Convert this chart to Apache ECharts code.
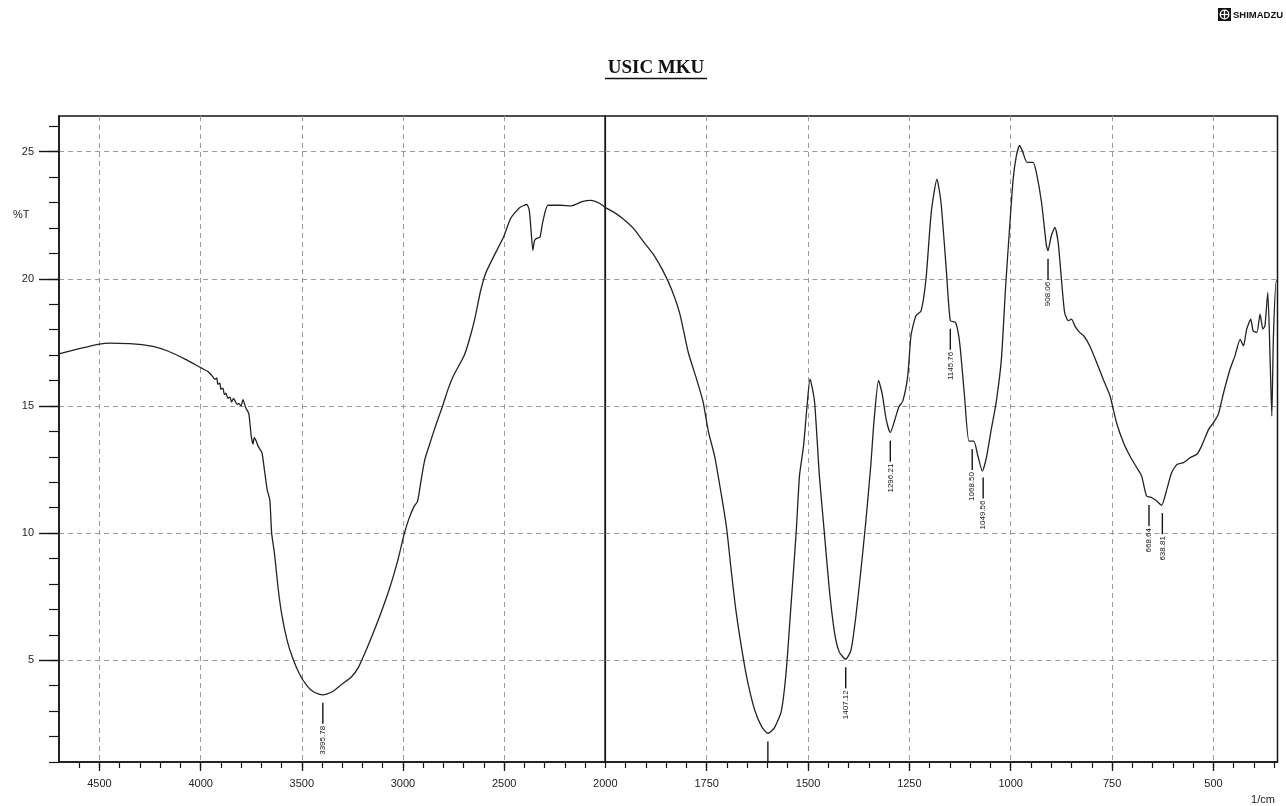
<!DOCTYPE html>
<html><head><meta charset="utf-8">
<script src="https://cdn.jsdelivr.net/npm/echarts@6/dist/echarts.min.js"></script>
<style>html,body{margin:0;padding:0;background:#fff}#c{width:1286px;height:806px}</style>
</head><body><div id="c"></div>
<script>
// ---- data (wavenumber 1/cm, %T) ----
const spectrumHigh = [
 [4700,17.05],[4600,17.25],[4500,17.43],[4450,17.47],[4350,17.45],[4290,17.41],[4236,17.34],[4166,17.17],
 [4077,16.84],[4001,16.51],[3962,16.34],[3940,16.15],[3930,16.05],[3920,16.1],[3915,15.85],[3905,15.9],
 [3900,15.66],[3890,15.7],[3883,15.45],[3875,15.5],[3865,15.3],[3855,15.35],[3847,15.15],[3838,15.3],
 [3830,15.2],[3820,15.05],[3812,15.1],[3800,15.0],[3791,15.25],[3777,14.93],[3762,14.7],[3750,13.82],
 [3741,13.5],[3735,13.75],[3727,13.65],[3715,13.4],[3697,13.16],[3685,12.5],[3671,11.7],[3658,11.3],
 [3649,10.0],[3635,9.2],[3618,7.9],[3600,6.84],[3573,5.79],[3547,5.13],[3512,4.47],[3476,4.01],
 [3441,3.75],[3396,3.64],[3352,3.75],[3299,4.08],[3255,4.34],[3219,4.74],[3175,5.53],[3122,6.58],
 [3069,7.76],[3025,8.95],[2995,9.93],[2972,10.53],[2945,11.05],[2928,11.25],[2910,12.1],[2892,12.89],
 [2866,13.55],[2839,14.21],[2804,15.0],[2777,15.66],[2751,16.18],[2698,16.97],[2671,17.63],[2645,18.42],
 [2618,19.47],[2592,20.2],[2557,20.79],[2503,21.64],[2468,22.37],[2424,22.79],[2388,22.92],[2376,22.7],
 [2368,22.0],[2358,21.12],[2350,21.5],[2341,21.58],[2323,21.64],[2309,22.24],[2283,22.89],[2221,22.89],
 [2168,22.87],[2115,23.03],[2071,23.08],[2027,22.96],[2000,22.8]
];
const spectrumLow = [
 [2000,22.8],[1980,22.63],[1955,22.34],[1930,21.97],[1906,21.46],[1881,20.95],[1857,20.29],[1836,19.56],
 [1816,18.61],[1795,17.08],[1775,16.06],[1759,15.18],[1746,14.01],[1730,13.0],[1714,11.53],[1701,10.22],
 [1689,8.47],[1677,6.86],[1660,5.11],[1648,4.09],[1632,3.07],[1615,2.41],[1599,2.12],[1583,2.34],
 [1566,2.99],[1554,4.53],[1542,7.15],[1529,10.07],[1521,12.26],[1511,13.43],[1503,14.89],[1495,16.06],
 [1484,15.18],[1472,12.26],[1460,10.07],[1448,7.88],[1435,6.13],[1423,5.33],[1407,5.04],[1394,5.4],
 [1382,6.72],[1370,8.47],[1358,10.36],[1345,12.7],[1337,14.45],[1326,16.0],[1317,15.47],[1307,14.45],
 [1297,13.95],[1286,14.45],[1276,14.96],[1266,15.2],[1254,16.18],[1246,17.76],[1234,18.54],[1221,18.74],
 [1209,19.99],[1196,22.61],[1182,23.92],[1172,23.0],[1159,20.38],[1149,18.35],[1136,18.28],[1126,17.49],
 [1114,15.39],[1103,13.62],[1091,13.62],[1081,13.03],[1070,12.44],[1060,12.97],[1048,14.08],[1036,15.13],
 [1023,16.84],[1013,19.59],[1003,21.96],[994,23.92],[986,24.84],[978,25.24],[970,24.97],[960,24.58],
 [945,24.58],[937,24.19],[924,23.0],[912,21.3],[908,21.1],[900,21.69],[891,22.02],[883,21.43],
 [875,19.99],[867,18.67],[858,18.35],[850,18.41],[842,18.15],[830,17.89],[820,17.76],[805,17.36],
 [788,16.71],[772,16.05],[755,15.39],[739,14.34],[722,13.56],[706,13.03],[689,12.57],[677,12.24],
 [665,11.46],[652,11.39],[640,11.26],[628,11.09],[615,11.72],[603,12.38],[590,12.7],[574,12.77],
 [557,12.97],[541,13.1],[529,13.43],[512,14.08],[500,14.34],[488,14.67],[475,15.52],[459,16.44],
 [447,16.97],[434,17.62],[426,17.36],[418,18.02],[408,18.41],[402,17.95],[393,17.89],[385,18.61],
 [378,18.02],[373,18.15],[366,19.46],[360,16.71],[356,14.6],[352,17.76],[345,19.92],[342,19.9]
];
// peak markers: [wavenumber, %T at curve, label text]
const peaksHigh = [[3396, 3.64, '3395.78']];
const peaksLow = [
 [1599, 2.12, ''], [1407, 5.04, '1407.12'], [1297, 13.95, '1296.21'], [1149, 18.35, '1145.76'],
 [1095, 13.62, '1068.50'], [1068, 12.5, '1049.56'], [908, 21.1, '908.06'],
 [659, 11.42, '668.64'], [626, 11.1, '638.81']
];
// axes
const xRangeHigh = [2000, 4700];
const xRangeLow = [342, 2000];
const yRange = [1, 26.4];
const xLabelsHigh = [2000, 2500, 3000, 3500, 4000, 4500];
const xMajorHigh = [2500, 3000, 3500, 4000, 4500];
const xMajorLow = [500, 750, 1000, 1250, 1500, 1750];
const yMajor = [5, 10, 15, 20, 25];
function range(a, b, s) { const r = []; for (let v = a; v <= b; v += s) r.push(v); return r; }
const xMinorHigh = range(2000, 4600, 100);
const xMinorLow = range(350, 1950, 50);
const yMinor = range(1, 26, 1);

const FONT = '"Liberation Sans", Arial, sans-serif';
const INK = '#151515';
const chart = echarts.init(document.getElementById('c'), null, {renderer: 'canvas'});

const gridMain = [
  {left: 59, right: 680.7, top: 116, bottom: 44},
  {left: 605.3, right: 8.5, top: 116, bottom: 44}
];
const dashed = {show: true, lineStyle: {color: '#9a9a9a', width: 1, type: [5, 4]}};
const plain = v => String(v);

function majorX(idx, rng, majors, labels) {
  return {
    type: 'value', gridIndex: idx, min: rng[0], max: rng[1], inverse: true,
    axisLine: {show: true, onZero: false, lineStyle: {color: INK, width: 1.5}},
    axisTick: {show: true, customValues: majors, length: 9, lineStyle: {color: INK, width: 1.3}},
    axisLabel: {show: true, customValues: labels, formatter: plain, margin: 16, color: '#222', fontSize: 11, fontFamily: FONT},
    splitLine: dashed
  };
}
function minorX(idx, rng, minors) {
  return {
    type: 'value', gridIndex: idx, min: rng[0], max: rng[1], inverse: true,
    axisLine: {show: false, onZero: false},
    axisTick: {show: true, customValues: minors, length: 6, lineStyle: {color: INK, width: 1.2}},
    axisLabel: {show: false}, splitLine: {show: false}
  };
}
function peakRenderer(list) {
  return function (params, api) {
    const p = api.coord([api.value(0), api.value(1)]);
    const bottom = api.coord([api.value(0), yRange[0]])[1];
    const y0 = p[1] + 8;
    const y1 = Math.min(y0 + 21, bottom);
    const children = [{type: 'line', shape: {x1: p[0], y1: y0, x2: p[0], y2: y1},
      style: {stroke: INK, lineWidth: 1.4}}];
    const txt = list[params.dataIndex][2];
    if (txt) {
      children.push({type: 'text', x: p[0], y: y1 + 2, rotation: Math.PI / 2,
        style: {text: txt, align: 'right', verticalAlign: 'middle', fontSize: 8, fontFamily: FONT, fill: INK}});
    }
    return {type: 'group', children};
  };
}

const option = {
  animation: false,
  backgroundColor: '#ffffff',
  grid: [
    Object.assign({show: true, borderColor: INK, borderWidth: 1.5, outerBoundsMode: 'none'}, gridMain[0]),
    Object.assign({show: true, borderColor: INK, borderWidth: 1.5, outerBoundsMode: 'none'}, gridMain[1]),
    Object.assign({show: false, outerBoundsMode: 'none'}, gridMain[0]),
    Object.assign({show: false, outerBoundsMode: 'none'}, gridMain[1])
  ],
  xAxis: [
    majorX(0, xRangeHigh, xMajorHigh, xLabelsHigh),
    majorX(1, xRangeLow, xMajorLow, xMajorLow),
    minorX(2, xRangeHigh, xMinorHigh),
    minorX(3, xRangeLow, xMinorLow)
  ],
  yAxis: [
    {type: 'value', gridIndex: 0, min: yRange[0], max: yRange[1],
     axisLine: {show: true, onZero: false, lineStyle: {color: INK, width: 1.5}},
     axisTick: {show: true, customValues: yMajor, length: 20, lineStyle: {color: INK, width: 1.4}},
     axisLabel: {show: true, customValues: yMajor, formatter: plain, margin: 25, color: '#222', fontSize: 11, fontFamily: FONT},
     splitLine: dashed},
    {type: 'value', gridIndex: 1, min: yRange[0], max: yRange[1],
     axisLine: {show: false, onZero: false},
     axisTick: {show: false, customValues: yMajor},
     axisLabel: {show: false},
     splitLine: dashed},
    {type: 'value', gridIndex: 2, min: yRange[0], max: yRange[1],
     axisLine: {show: false, onZero: false},
     axisTick: {show: true, customValues: yMinor, length: 10, lineStyle: {color: INK, width: 1.2}},
     axisLabel: {show: false}, splitLine: {show: false}},
    {type: 'value', gridIndex: 3, min: yRange[0], max: yRange[1], show: false}
  ],
  graphic: [
    {type: 'text', x: 656, y: 68, style: {text: 'USIC MKU', align: 'center', verticalAlign: 'middle',
      fontSize: 19, fontWeight: 'bold', fontFamily: '"Liberation Serif", "Times New Roman", serif', fill: '#111'}},
    {type: 'line', shape: {x1: 605, y1: 78.5, x2: 707, y2: 78.5}, style: {stroke: '#111', lineWidth: 1.4}},
    {type: 'text', x: 13, y: 215, style: {text: '%T', align: 'left', verticalAlign: 'middle',
      fontSize: 11, fontFamily: FONT, fill: '#222'}},
    {type: 'text', x: 1263, y: 800, style: {text: '1/cm', align: 'center', verticalAlign: 'middle',
      fontSize: 11, fontFamily: FONT, fill: '#222'}},
    {type: 'rect', shape: {x: 1218, y: 8, width: 13, height: 13}, style: {fill: '#111'}},
    {type: 'circle', shape: {cx: 1224.5, cy: 14.5, r: 4.3}, style: {fill: 'none', stroke: '#fff', lineWidth: 1.3}},
    {type: 'line', shape: {x1: 1224.5, y1: 10.2, x2: 1224.5, y2: 18.8}, style: {stroke: '#fff', lineWidth: 1.2}},
    {type: 'line', shape: {x1: 1220.2, y1: 14.5, x2: 1228.8, y2: 14.5}, style: {stroke: '#fff', lineWidth: 1.2}},
    {type: 'text', x: 1233, y: 15, style: {text: 'SHIMADZU', align: 'left', verticalAlign: 'middle',
      fontSize: 9.5, fontWeight: 'bold', fontFamily: FONT, fill: '#111'}}
  ],
  series: [
    {type: 'line', xAxisIndex: 0, yAxisIndex: 0, data: spectrumHigh, showSymbol: false, smooth: 0.2,
     lineStyle: {color: '#222', width: 1.3}, z: 5},
    {type: 'line', xAxisIndex: 1, yAxisIndex: 1, data: spectrumLow, showSymbol: false, smooth: 0.2,
     lineStyle: {color: '#222', width: 1.3}, z: 5},
    {type: 'custom', xAxisIndex: 0, yAxisIndex: 0, data: peaksHigh.map(p => [p[0], p[1]]),
     renderItem: peakRenderer(peaksHigh), z: 6},
    {type: 'custom', xAxisIndex: 1, yAxisIndex: 1, data: peaksLow.map(p => [p[0], p[1]]),
     renderItem: peakRenderer(peaksLow), z: 6}
  ]
};
chart.setOption(option);
</script></body></html>
